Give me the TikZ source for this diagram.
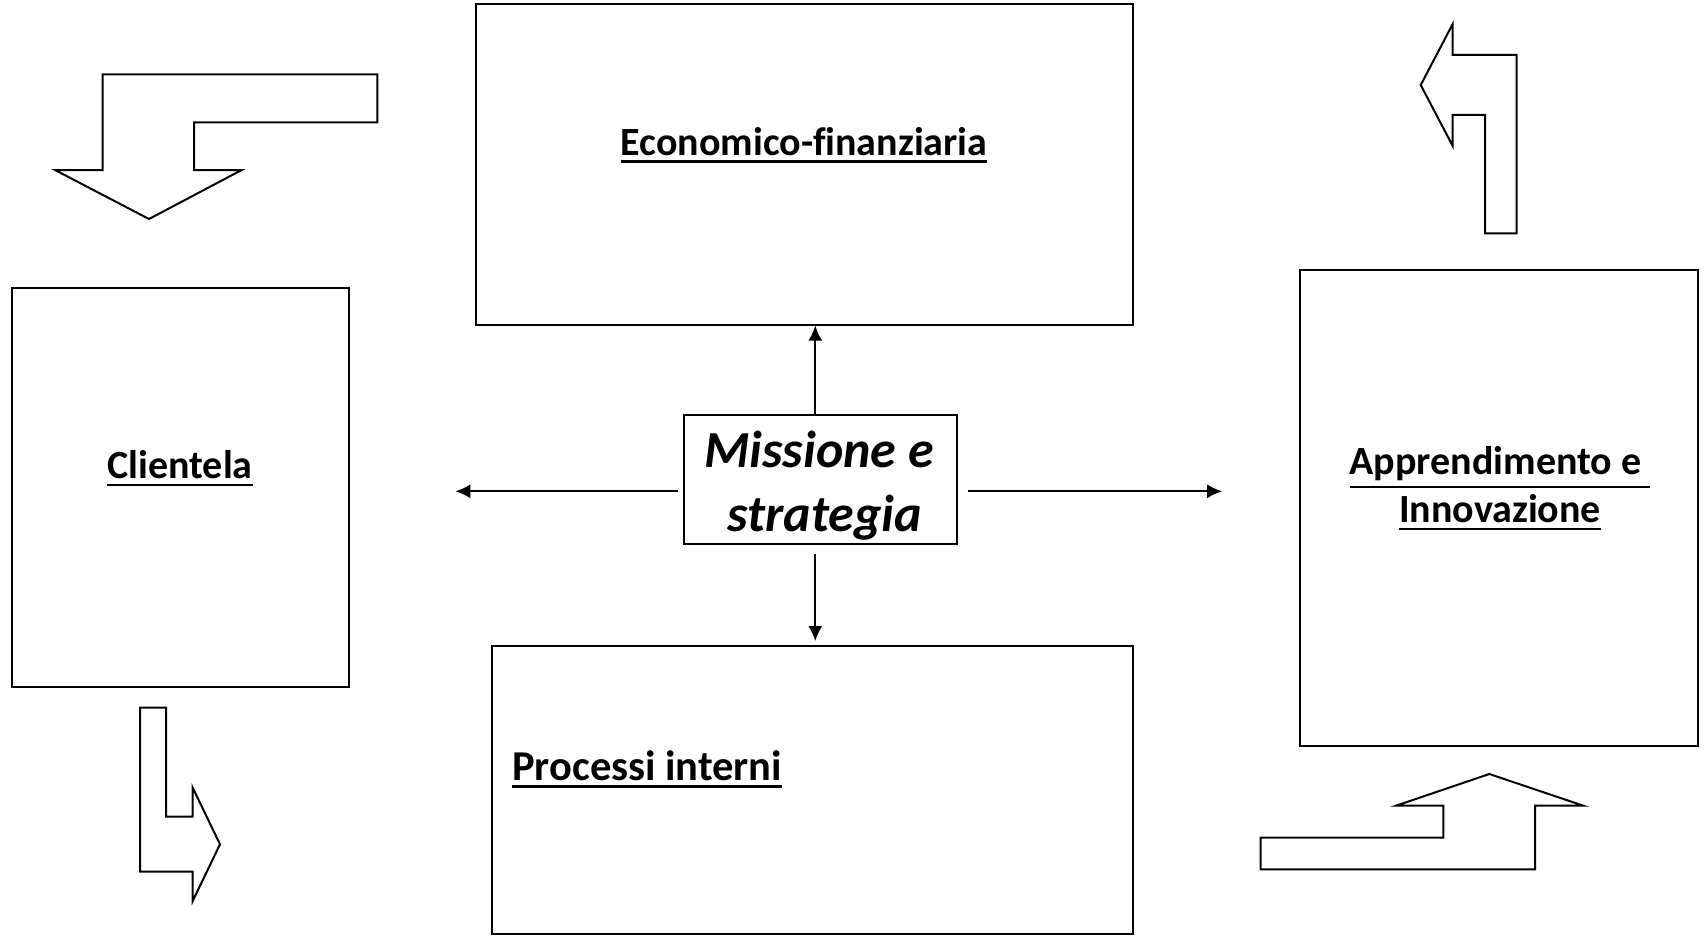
\documentclass[tikz,border=0pt]{standalone}
\usepackage{fontspec}
\setmainfont{Carlito}[Ligatures=NoCommon]
\newcommand{\myul}[1]{\leavevmode\vtop{\hbox{#1}\kern 4.5pt\hrule height 2.6pt}}
\usetikzlibrary{arrows.meta}
\begin{document}
\begin{tikzpicture}[x=1pt,y=-1pt,
  box/.style={draw,line width=2pt,rectangle,inner sep=0pt},
  lbl/.style={font=\fontsize{40}{48}\selectfont\bfseries,align=center,inner sep=0pt},
  bent/.style={draw,line width=2pt,line join=miter},
  conn/.style={line width=2pt,-{Latex[length=15pt,width=14pt]}}]
\useasboundingbox (0,0) rectangle (1708,939);
% boxes
\node[box,minimum width=657pt,minimum height=320pt] (eco) at (804.5,164.5) {};
\node[box,minimum width=336.6pt,minimum height=399.8pt] (cli) at (180.3,487.5) {};
\node[box,minimum width=398.7pt,minimum height=476.2pt] (app) at (1498.9,508.1) {};
\node[box,minimum width=640.6pt,minimum height=287.5pt] (pro) at (812.7,789.8) {};
\node[box,minimum width=272.7pt,minimum height=129pt] (mis) at (820.3,479.5) {};
% labels
\node[lbl] (ecot) at (804,145.2) {\myul{Economico-finanziaria}};
\node[lbl] (clit) at (180,468.5) {\myul{Clientela}};
\node[lbl] (appt) at (1500,488.4) {\myul{Apprendimento e\ }\\\myul{Innovazione}};
\node[lbl,anchor=west,font=\fontsize{42.5}{50}\selectfont\bfseries] (prot) at (512,769) {\myul{Processi interni}};
\node[font=\fontsize{52}{64}\selectfont\bfseries\itshape,align=center,inner sep=0pt] (mist) at (819,486) {Missione e\\\ strategia};
% connectors
\coordinate (lend) at (455.3,491.3);
\coordinate (rend) at (1222.2,491.3);
\draw[conn] ([xshift=-5pt]mis.north) -- ([xshift=-5pt]mis.north |- eco.south);
\draw[conn] ([xshift=-5pt,yshift=-9pt]mis.south) -- ([xshift=-5pt,yshift=4pt]mis.south |- pro.north);
\draw[conn] ([xshift=-5pt,yshift=-11.8pt]mis.west) -- (lend);
\draw[conn] ([xshift=10pt,yshift=-11.8pt]mis.east) -- (rend);
% bent block arrows
\draw[bent] (102.7,74.3) -- (377.3,74.3) -- (377.3,122.3) -- (194,122.3) -- (194,170) -- (241.7,170) -- (149,219) -- (55,170) -- (102.7,170) -- cycle;
\draw[bent] (140,707.7) -- (166,707.7) -- (166,816.7) -- (192.7,816.7) -- (192.7,787.7) -- (220,844.3) -- (192.7,901) -- (192.7,871.7) -- (140,871.7) -- cycle;
\draw[bent] (1452.7,24) -- (1452.7,55) -- (1516.7,55) -- (1516.7,233.3) -- (1485,233.3) -- (1485,115) -- (1452.7,115) -- (1452.7,146) -- (1420.7,85) -- cycle;
\draw[bent] (1489.3,774) -- (1583.3,805.7) -- (1535,805.7) -- (1535,869.3) -- (1260.7,869.3) -- (1260.7,837.7) -- (1443.3,837.7) -- (1443.3,805.7) -- (1396,805.7) -- cycle;
\end{tikzpicture}
\end{document}
